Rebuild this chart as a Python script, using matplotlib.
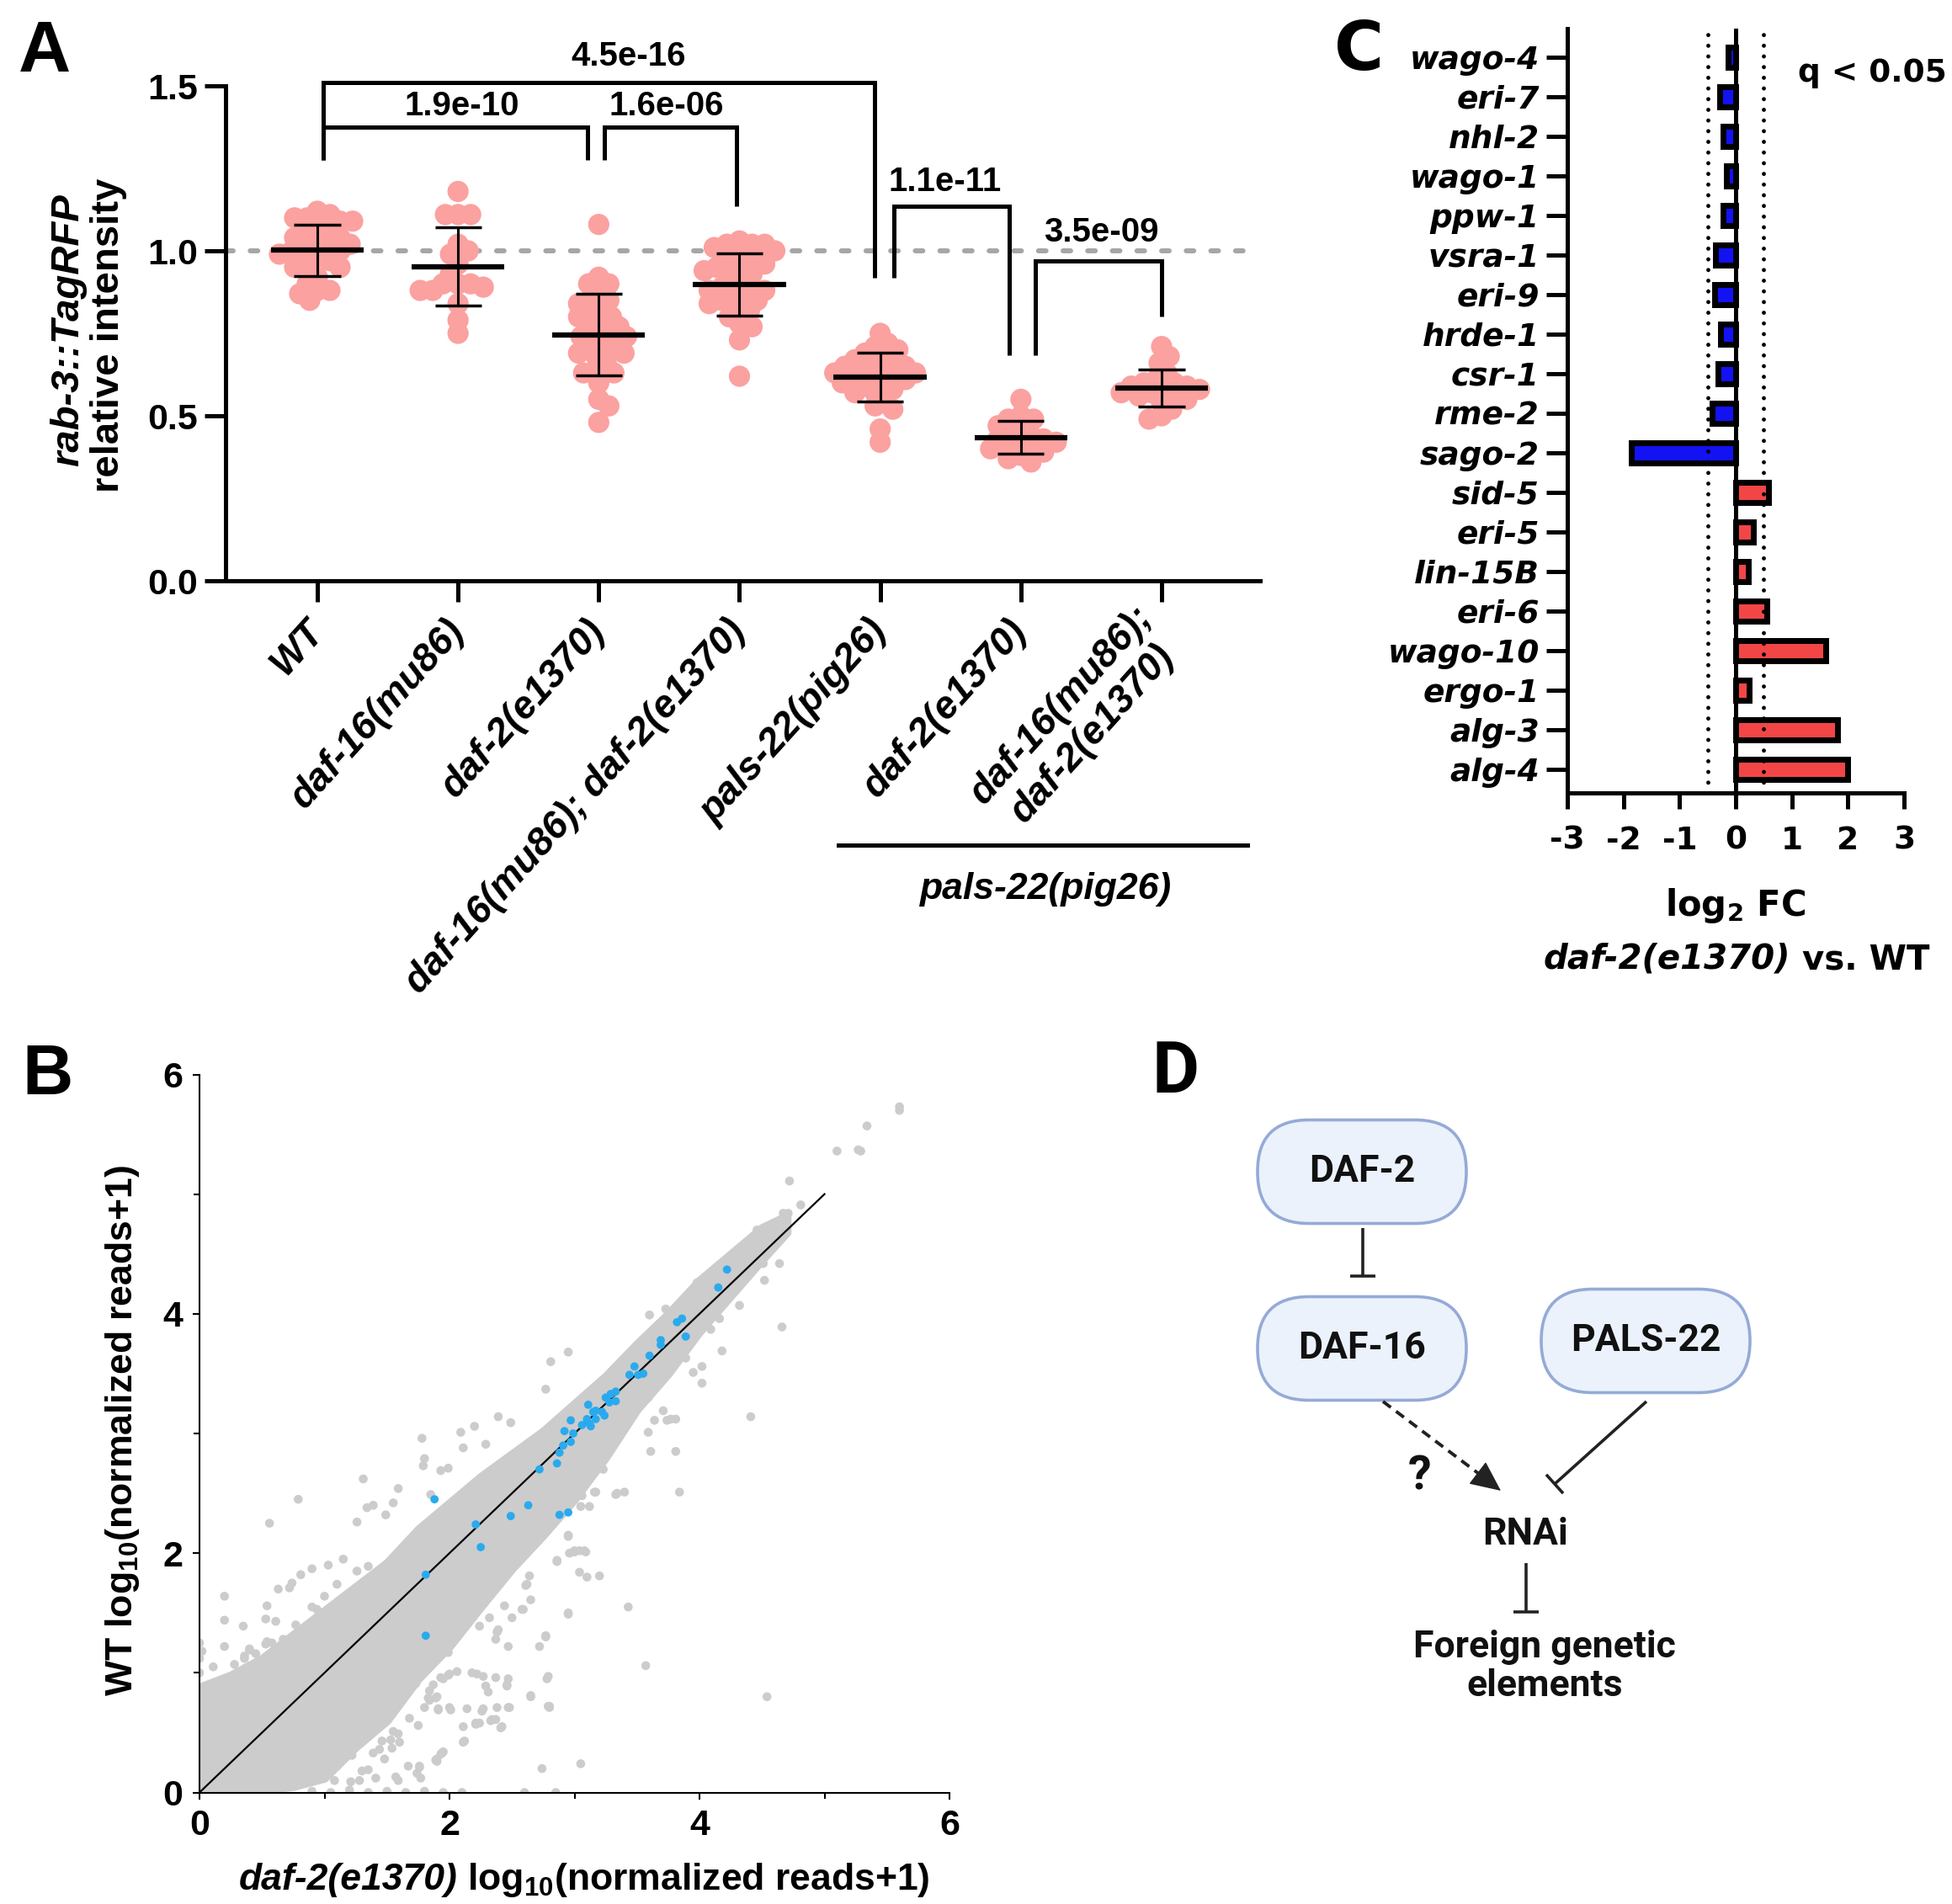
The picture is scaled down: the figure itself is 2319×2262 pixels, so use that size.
import numpy as np
import matplotlib
matplotlib.use("Agg")
import matplotlib.pyplot as plt
from matplotlib.patches import FancyBboxPatch
from matplotlib.transforms import blended_transform_factory
from matplotlib.offsetbox import TextArea, HPacker, AnnotationBbox

plt.rcParams['font.family'] = ['Liberation Sans', 'DejaVu Sans']
plt.rcParams['font.weight'] = 'bold'
plt.rcParams['axes.unicode_minus'] = False
plt.rcParams['mathtext.default'] = 'regular'

# ---------------- panel A data ----------------
a_groups = ["WT", "daf-16(mu86)", "daf-2(e1370)", "daf-16(mu86); daf-2(e1370)",
            "pals-22(pig26)", "daf-2(e1370)", "daf-16(mu86);\ndaf-2(e1370)"]
wt = [1.12, 1.11, 1.10, 1.10, 1.09, 1.09, 1.07, 1.06, 1.05, 1.04, 1.04, 1.02, 1.02, 1.02,
      1.01, 1.00, 1.00, 0.99, 0.98, 0.97, 0.96, 0.95, 0.95, 0.92, 0.90, 0.88, 0.88, 0.87, 0.85]
daf16 = [1.18, 1.11, 1.11, 1.11, 1.02, 1.00, 0.99, 0.96, 0.93, 0.90, 0.90, 0.90, 0.89,
         0.88, 0.88, 0.84, 0.79, 0.75]
daf2 = [1.08, 0.92, 0.90, 0.90, 0.87, 0.85, 0.84, 0.84, 0.82, 0.80, 0.80, 0.80, 0.78, 0.77,
        0.76, 0.75, 0.74, 0.74, 0.73, 0.72, 0.71, 0.70, 0.69, 0.69, 0.68, 0.66, 0.64, 0.63,
        0.63, 0.60, 0.55, 0.53, 0.48]
daf16_daf2 = [1.03, 1.02, 1.02, 1.02, 1.01, 1.00, 0.98, 0.97, 0.97, 0.96, 0.95, 0.94, 0.94,
              0.93, 0.92, 0.90, 0.89, 0.89, 0.88, 0.88, 0.87, 0.86, 0.85, 0.85, 0.84, 0.83,
              0.82, 0.80, 0.78, 0.77, 0.73, 0.62]
pals22 = [0.75, 0.72, 0.71, 0.70, 0.69, 0.68, 0.67, 0.66, 0.66, 0.65, 0.65, 0.64, 0.64, 0.63,
          0.63, 0.62, 0.62, 0.61, 0.61, 0.60, 0.60, 0.59, 0.58, 0.57, 0.57, 0.55, 0.53, 0.52,
          0.46, 0.42]
pals22_daf2 = [0.55, 0.50, 0.49, 0.49, 0.47, 0.46, 0.45, 0.44, 0.43, 0.43, 0.42, 0.42, 0.41,
               0.40, 0.40, 0.39, 0.38, 0.37, 0.36]
pals22_daf16_daf2 = [0.71, 0.68, 0.66, 0.63, 0.61, 0.60, 0.60, 0.59, 0.59, 0.58, 0.58, 0.57,
                     0.57, 0.56, 0.56, 0.55, 0.54, 0.52, 0.50, 0.49]
a_values = [wt, daf16, daf2, daf16_daf2, pals22, pals22_daf2, pals22_daf16_daf2]
p_labels = ["4.5e-16", "1.9e-10", "1.6e-06", "1.1e-11", "3.5e-09"]

# ---------------- panel C data ----------------
genes = ["wago-4", "eri-7", "nhl-2", "wago-1", "ppw-1", "vsra-1", "eri-9", "hrde-1", "csr-1",
         "rme-2", "sago-2", "sid-5", "eri-5", "lin-15B", "eri-6", "wago-10", "ergo-1",
         "alg-3", "alg-4"]
log2fc = [-0.13, -0.29, -0.22, -0.17, -0.22, -0.36, -0.38, -0.27, -0.32, -0.42, -1.86,
          0.59, 0.32, 0.22, 0.56, 1.60, 0.24, 1.82, 1.99]
fc_cut = [-0.5, 0.5]

# ---------------- panel B data ----------------
# dense core of the gene cloud (edges)
band_x = [0.0, 0.1, 0.25, 0.5, 0.75, 1.0, 1.25, 1.5, 1.75, 2.0, 2.25, 2.5, 2.75, 3.0, 3.25,
          3.5, 3.75, 4.0, 4.25, 4.5, 4.7]
band_hi = [0.88, 0.92, 0.98, 1.12, 1.32, 1.52, 1.72, 1.92, 2.2, 2.42, 2.64, 2.83, 3.02, 3.25,
           3.48, 3.75, 4.0, 4.28, 4.5, 4.72, 4.82]
band_lo = [0.0, 0.0, 0.0, 0.02, 0.05, 0.12, 0.38, 0.6, 0.95, 1.22, 1.55, 1.87, 2.15, 2.45,
           2.8, 3.2, 3.5, 3.85, 4.15, 4.45, 4.68]
gray_x = [5.60, 5.60, 5.34, 5.10, 5.27, 5.29, 4.72, 4.66, 4.41, 4.54, 3.57, 3.43, 2.95, 2.81,
          2.79, 2.74, 3.05, 3.84, 0.79, 0.56, 0.20, 1.78, 1.31, 2.09, 2.39, 2.96, 3.04, 3.20,
          3.61, 4.02, 4.18, 4.51, 3.59, 3.81, 2.24, 2.37, 2.12, 2.47, 2.79, 1.95, 1.67, 3.34,
          3.74, 3.59,
          0.20, 0.20, 0.35, 0.54, 0.63, 0.74, 0.81, 0.90, 1.03, 1.15, 1.26, 1.34, 1.39, 1.49,
          1.55, 1.59, 1.80, 1.79, 1.85, 1.93, 1.99, 2.11, 2.20, 2.29, 2.49, 2.77, 0.11, 0.36,
          0.40, 0.53, 0.67,
          2.80, 2.65, 2.47, 2.78, 2.46, 2.77, 2.72, 2.47, 2.38, 2.95, 2.65, 2.61, 3.10, 3.00,
          3.09, 2.95, 2.86, 3.05, 3.12, 3.17, 3.23, 3.33, 2.11, 2.21, 2.33, 2.41, 2.26, 2.48,
          2.01, 1.91, 1.76, 1.93, 1.90, 2.11, 1.59, 1.35, 1.41, 1.21, 1.10, 2.32, 2.50, 2.24,
          2.13, 2.58, 2.38,
          0.90, 1.05, 1.20, 1.35, 1.50, 1.65, 1.80, 1.95, 2.10, 2.60, 2.85,
          0.00, 0.00, 0.00, 0.02,
          4.81, 4.67, 4.71, 4.46, 4.64, 4.32, 4.52, 3.98, 3.73, 3.60, 3.81, 3.40, 3.16, 3.64,
          3.77, 3.71, 4.02, 3.95, 3.89, 4.16, 4.09, 3.06, 2.98, 2.93,
          0.53, 0.72, 0.40, 0.45, 0.28, 0.16, 0.36, 0.54, 0.58, 0.77, 0.61, 0.90, 0.94, 1.00,
          1.10, 1.26, 1.35, 0.37,
          1.99, 1.99, 1.93, 1.91, 2.00, 1.84, 1.90, 1.80, 1.68, 1.75, 1.62, 1.73, 1.55, 1.59,
          1.46, 1.53, 1.60, 1.44, 1.54, 1.39, 1.48, 1.94, 1.90, 1.76, 1.74, 1.57, 1.30, 1.28,
          1.17, 1.22, 1.03, 0.92, 1.08,
          2.95, 2.77, 2.37, 2.39, 2.44, 2.59, 2.62, 2.64, 2.86, 3.00, 3.04, 3.08, 2.95, 2.80,
          2.65, 2.46, 2.37, 2.31, 2.29, 2.27, 2.22, 2.18, 2.06, 2.00, 1.95, 1.87, 1.84, 1.89,
          1.83, 2.14, 2.27, 2.38, 2.21, 2.34, 2.42, 1.94, 1.89, 1.77]
gray_y = [5.73, 5.70, 5.57, 5.36, 5.37, 5.36, 5.11, 3.89, 3.14, 0.80, 1.06, 1.55, 3.68, 3.60,
          0.97, 0.20, 0.24, 2.51, 2.45, 2.25, 1.64, 2.96, 2.62, 3.01, 3.14, 2.00, 1.84, 1.81,
          2.85, 3.42, 3.69, 4.42, 3.01, 3.12, 0.58, 0.61, 0.43, 0.71, 0.72, 0.34, 0.22, 2.50,
          3.11, 3.30,
          1.44, 1.22, 1.39, 1.56, 1.70, 1.75, 1.82, 1.87, 1.90, 1.95, 2.26, 2.38, 2.40, 2.32,
          2.42, 2.54, 2.79, 2.73, 2.49, 2.69, 2.71, 2.88, 3.06, 2.91, 3.09, 3.37, 1.05, 1.12,
          1.19, 1.24, 1.28,
          0.71, 0.80, 0.95, 0.95, 0.89, 1.30, 1.22, 1.22, 1.34, 1.49, 1.61, 1.73, 1.80, 2.01,
          2.01, 2.14, 1.93, 2.39, 2.39, 2.51, 2.70, 2.49, 0.55, 0.57, 0.60, 0.54, 0.68, 0.71,
          0.69, 0.69, 0.21, 0.32, 0.26, 0.42, 0.10, 0.19, 0.12, 0.09, 0.22, 1.46, 1.46, 1.39,
          1.39, 1.53, 1.76,
          0.01, 0.00, 0.02, 0.00, 0.01, 0.00, 0.01, 0.00, 0.00, 0.00, 0.00,
          1.00, 1.12, 1.25, 1.18,
          4.91, 4.84, 4.84, 4.70, 4.42, 4.07, 4.28, 4.26, 4.04, 3.99, 2.85, 2.51, 2.51, 3.11,
          3.12, 3.19, 3.56, 3.51, 3.63, 3.96, 3.87, 2.48, 2.44, 2.50,
          1.45, 1.71, 1.20, 1.16, 1.07, 0.88, 1.14, 1.26, 1.25, 1.40, 1.43, 1.55, 1.53, 1.64,
          1.74, 1.85, 1.89, 1.04,
          1.17, 0.98, 0.96, 0.70, 0.71, 0.77, 0.80, 0.71, 0.62, 0.56, 0.89, 0.91, 0.51, 0.49,
          0.43, 0.44, 0.42, 0.36, 0.37, 0.33, 0.28, 0.33, 0.28, 0.22, 0.16, 0.13, 0.18, 0.10,
          0.31, 0.31, 0.42, 0.10, 0.10,
          1.50, 1.31, 1.28, 1.36, 1.56, 1.53, 1.74, 1.81, 1.94, 2.02, 2.02, 2.02, 2.15, 0.72,
          0.81, 0.90, 0.96, 0.84, 0.89, 0.97, 0.99, 1.00, 1.01, 0.99, 0.95, 0.90, 0.85, 0.79,
          0.79, 0.70, 0.70, 0.71, 0.58, 0.61, 0.55, 0.33, 0.27, 0.12]
blue_x = [1.81, 1.81, 1.88, 2.21, 2.25, 2.49, 2.63, 2.72, 2.86, 2.88, 2.88, 2.95, 2.91, 2.97,
          2.92, 2.99, 2.97, 3.06, 3.10, 3.12, 3.13, 3.11, 3.15, 3.17, 3.22, 3.24, 3.17, 3.25,
          3.29, 3.33, 3.33, 3.28, 3.44, 3.51, 3.55, 3.48, 3.60, 3.69, 3.69, 3.82, 3.86, 3.89,
          4.15, 4.22]
blue_y = [1.31, 1.82, 2.45, 2.24, 2.05, 2.31, 2.40, 2.70, 2.75, 2.84, 2.32, 2.34, 2.90, 2.93,
          3.02, 3.00, 3.11, 3.07, 3.12, 3.08, 3.06, 3.24, 3.18, 3.19, 3.18, 3.15, 3.12, 3.30,
          3.33, 3.35, 3.27, 3.26, 3.49, 3.49, 3.50, 3.56, 3.65, 3.78, 3.74, 3.93, 3.96, 3.81,
          4.22, 4.37]
diag = [0, 5]

W, H = 2319, 2262
fig = plt.figure(figsize=(W / 100, H / 100), dpi=100)


def box(l, t, r, b):
    return [l / W, 1 - b / H, (r - l) / W, (b - t) / H]


def swarm_x(vals, center, sx, sy, d):
    # greedy beeswarm in pixel space
    vals = np.asarray(vals, dtype=float)
    xs = np.zeros(len(vals))
    placed = []
    order = np.argsort(-vals)
    for n, i in enumerate(order):
        py = vals[i] * sy
        best = None
        for k in range(80):
            for s in ((1, -1) if n % 2 else (-1, 1)):
                px = s * k * 3.0
                if all((px - qx) ** 2 + (py - qy) ** 2 >= d * d for qx, qy in placed):
                    best = px
                    break
            if best is not None:
                break
        placed.append((best, py))
        xs[i] = center + best / sx
    return xs


# ================= panel A =================
axA = fig.add_axes(box(268, 102, 1497, 690))
axA.set_xlim(-0.652, 6.70)
axA.set_ylim(0, 1.5)
sx = 1229 / (6.70 + 0.652)
sy = 588 / 1.5
axA.axhline(1.0, color='#A6A6A6', lw=4.3, linestyle=(0, (1.5, 3.4)),
            dash_capstyle='round', zorder=1)
for i, vals in enumerate(a_values):
    xs = swarm_x(vals, i, sx, sy, 14)
    axA.scatter(xs, vals, s=330, color='#FBA1A0', edgecolors='none', zorder=2)
    m = np.mean(vals)
    sd = np.std(vals, ddof=1)
    axA.hlines(m, i - 0.33, i + 0.33, color='k', lw=4.5, zorder=4)
    axA.vlines(i, m - sd, m + sd, color='k', lw=2.2, zorder=4)
    axA.hlines([m - sd, m + sd], i - 0.165, i + 0.165, color='k', lw=2.5, zorder=4)

brackets = [(0.04, 3.96, 1.51, 1.275, 0.918),
            (0.04, 1.92, 1.376, 1.275, 1.275),
            (2.04, 2.98, 1.376, 1.275, 1.135),
            (4.10, 4.92, 1.135, 0.918, 0.683),
            (5.10, 6.00, 0.97, 0.683, 0.80)]
label_pos = [(2.21, 1.59), (1.03, 1.44), (2.48, 1.44), (4.46, 1.21), (5.57, 1.057)]
for (xl, xr, yt, yl, yr), lab, (lx, ly) in zip(brackets, p_labels, label_pos):
    axA.plot([xl, xl, xr, xr], [yl, yt, yt, yr], color='k', lw=3.6, clip_on=False,
             solid_joinstyle='miter', solid_capstyle='butt', zorder=5)
    axA.text(lx, ly, lab, ha='center', va='center', fontsize=29, clip_on=False)

for side in ['top', 'right']:
    axA.spines[side].set_visible(False)
for side in ['left', 'bottom']:
    axA.spines[side].set_linewidth(3.6)
axA.set_yticks([0, 0.5, 1.0, 1.5])
axA.set_yticklabels(['0.0', '0.5', '1.0', '1.5'], fontsize=31)
axA.set_xticks(range(len(a_groups)))
axA.set_xticklabels(a_groups, rotation=48, ha='right', va='center', rotation_mode='anchor',
                    fontstyle='italic', fontsize=33, multialignment='center')
axA.tick_params(axis='both', direction='out', width=3.6, length=18)
axA.tick_params(axis='y', pad=6)
axA.tick_params(axis='x', pad=20)

tr = blended_transform_factory(axA.transData, axA.transAxes)
axA.plot([3.70, 6.61], [-0.534, -0.534], transform=tr, color='k', lw=3.6, clip_on=False)
axA.text(5.18, -0.624, 'pals-22(pig26)', transform=tr, ha='center', va='center',
         fontstyle='italic', fontsize=32)

fig.text(81 / W, 1 - 392 / H, 'rab-3::TagRFP', rotation=90, ha='center', va='center',
         fontstyle='italic', fontsize=34)
fig.text(129 / W, 1 - 398 / H, 'relative intensity', rotation=90, ha='center', va='center',
         fontsize=34)

# ================= panel C =================
cfont = 'DejaVu Sans'
axC = fig.add_axes(box(1862, 34, 2262, 942))
ypos = np.arange(len(genes))
bar_cols = ['#1212F2' if v < 0 else '#F24646' for v in log2fc]
axC.barh(ypos, log2fc, height=0.5, color=bar_cols, edgecolor='k', linewidth=5, zorder=3)
axC.set_xlim(-3, 3)
axC.set_ylim(len(genes) - 1 + 0.6, -0.72)
axC.axvline(0, color='k', lw=3.6, zorder=5)
for c in fc_cut:
    axC.axvline(c, color='k', lw=3.5, linestyle=(0, (0.01, 2.6)), dash_capstyle='round',
                zorder=4)
for side in ['top', 'right']:
    axC.spines[side].set_visible(False)
for side in ['left', 'bottom']:
    axC.spines[side].set_linewidth(3.6)
axC.set_yticks(ypos)
axC.set_yticklabels(genes, family=cfont, fontstyle='italic', fontsize=27)
axC.set_xticks(range(-3, 4))
axC.set_xticklabels([str(v) for v in range(-3, 4)], family=cfont, fontsize=27)
axC.tick_params(axis='y', direction='out', width=3.6, length=18, pad=6)
axC.tick_params(axis='x', direction='out', width=3.6, length=14, pad=14)

fig.text(2136 / W, 1 - 87 / H, 'q < 0.05', ha='left', va='center', family=cfont, fontsize=27)
fig.text(2062 / W, 1 - 1076 / H, 'log$_2$ FC', ha='center', va='center', family=cfont,
         fontsize=30)
c_line = HPacker(children=[TextArea('daf-2(e1370)', textprops=dict(family=cfont, fontsize=29,
                                                                     fontstyle='italic',
                                                                     fontweight='bold')),
                           TextArea(' vs. WT', textprops=dict(family=cfont, fontsize=29,
                                                                fontweight='bold'))],
                 align='baseline', pad=0, sep=0)
fig.add_artist(AnnotationBbox(c_line, (2063, H - 1140), xycoords='figure pixels',
                              box_alignment=(0.5, 0.5), frameon=False, pad=0))

# ================= panel B =================
axB = fig.add_axes(box(237, 1276.5, 1128, 2129.5))
axB.set_xlim(0, 6)
axB.set_ylim(0, 6)
axB.fill_between(band_x, band_lo, band_hi, facecolor='#CCCCCC', edgecolor='#CCCCCC',
                 linewidth=7, joinstyle='round', zorder=1)
axB.scatter(gray_x, gray_y, s=58, color='#CCCCCC', edgecolors='none', zorder=1)
axB.plot(diag, diag, color='k', lw=1.6, zorder=3)
axB.scatter(blue_x, blue_y, s=50, color='#2AAAEE', edgecolors='none', zorder=4)
for side in ['top', 'right']:
    axB.spines[side].set_visible(False)
for side in ['left', 'bottom']:
    axB.spines[side].set_linewidth(1.5)
axB.set_xticks([0, 2, 4, 6])
axB.set_yticks([0, 2, 4, 6])
axB.set_xticks([1, 3, 5], minor=True)
axB.set_yticks([1, 3, 5], minor=True)
axB.tick_params(axis='both', which='major', labelsize=31, width=1.5, length=6, pad=8)
axB.tick_params(axis='both', which='minor', width=1.5, length=5)
fig.text(146 / W, 1 - 1700 / H, 'WT log$_{10}$(normalized reads+1)', rotation=90,
         ha='center', va='center', fontsize=32)
b_line = HPacker(children=[TextArea('daf-2(e1370)', textprops=dict(fontsize=32,
                                                                     fontstyle='italic',
                                                                     fontweight='bold')),
                           TextArea(' log$_{10}$(normalized reads+1)',
                                    textprops=dict(fontsize=32, fontweight='bold'))],
                 align='baseline', pad=0, sep=0)
fig.add_artist(AnnotationBbox(b_line, (694, H - 2233), xycoords='figure pixels',
                              box_alignment=(0.5, 0.5), frameon=False, pad=0))

# ================= panel D + letters (pixel overlay) =================
axD = fig.add_axes([0, 0, 1, 1], zorder=10)
axD.set_xlim(0, W)
axD.set_ylim(H, 0)
axD.axis('off')
axD.patch.set_alpha(0)

dfont = 'Roboto'
ink = '#222222'
nodes = {'DAF-2': (1618, 1392), 'DAF-16': (1618, 1602), 'PALS-22': (1955, 1593)}
for name, (cx, cy) in nodes.items():
    bw, bh = 248, 123
    axD.add_patch(FancyBboxPatch((cx - bw / 2, cy - bh / 2), bw, bh,
                                 boxstyle="round,pad=0,rounding_size=61",
                                 fc='#EBF2FB', ec='#95AAD7', lw=2.6))
    axD.text(cx, cy, name, ha='center', va='center', family=dfont, fontsize=32,
             fontweight='bold', color='#111111')


def inhibit(p0, p1, bar=30, lw=2.6):
    axD.plot([p0[0], p1[0]], [p0[1], p1[1]], color=ink, lw=lw, solid_capstyle='butt')
    d = np.array(p1, float) - np.array(p0, float)
    d = d / np.hypot(*d)
    n = np.array([-d[1], d[0]]) * bar / 2
    axD.plot([p1[0] - n[0], p1[0] + n[0]], [p1[1] - n[1], p1[1] + n[1]], color=ink, lw=lw,
             solid_capstyle='butt')


inhibit((1619, 1459), (1619, 1516))
inhibit((1956, 1665), (1847, 1763))
inhibit((1813, 1857), (1813, 1915))
axD.plot([1643, 1765], [1665, 1757], color=ink, lw=2.8, linestyle=(0, (3.0, 2.0)))
axD.annotate('', xy=(1783, 1771), xytext=(1762, 1755),
             arrowprops=dict(arrowstyle='-|>,head_length=1.3,head_width=0.6', lw=1,
                             color=ink, shrinkA=0, shrinkB=0, mutation_scale=18))
axD.text(1687, 1754, '?', ha='center', va='center', family=dfont, fontsize=40,
         fontweight='bold', color='#111111')
axD.text(1812, 1823, 'RNAi', ha='center', va='center', family=dfont, fontsize=32,
         fontweight='bold', color='#111111')
axD.text(1835, 1980, 'Foreign genetic\nelements', ha='center', va='center', family=dfont,
         fontsize=32, fontweight='bold', color='#111111', linespacing=1.15)

axD.text(22, 85, 'A', ha='left', va='baseline', fontsize=62)
axD.text(26, 1300, 'B', ha='left', va='baseline', fontsize=60)
axD.text(1585, 83, 'C', ha='left', va='baseline', family=cfont, fontsize=58)
axD.text(1368, 1298, 'D', ha='left', va='baseline', family=dfont, fontsize=62)

fig.savefig('out.png', dpi=100)
